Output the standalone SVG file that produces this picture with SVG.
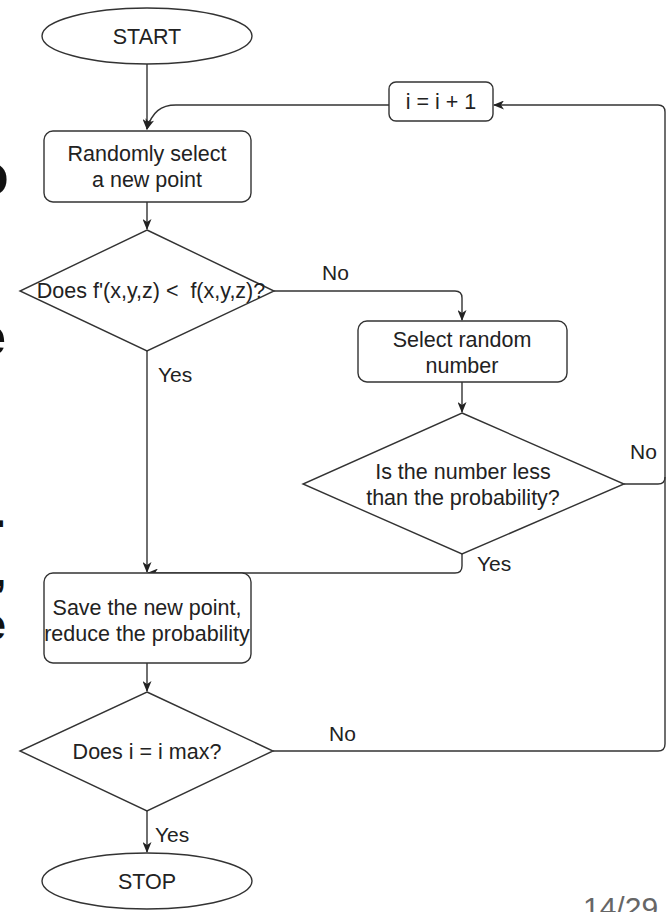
<svg xmlns="http://www.w3.org/2000/svg" width="669" height="912" viewBox="0 0 669 912">
<style>
.shape{fill:#fff;stroke:#333;stroke-width:1.4}
.edge{fill:none;stroke:#333;stroke-width:1.4}
.t{font-family:"Liberation Sans",Arial,sans-serif;font-size:21.5px;fill:#222;text-anchor:middle}
.lbl{font-family:"Liberation Sans",Arial,sans-serif;font-size:21px;fill:#222}
.frag{font-family:"Liberation Sans",Arial,sans-serif;font-weight:bold;fill:#111;text-anchor:end}
</style>
<defs>
<marker id="arr" viewBox="0 0 11 9" refX="10" refY="4.5" markerWidth="11" markerHeight="9" markerUnits="userSpaceOnUse" orient="auto">
<path d="M0,0 L11,4.5 L0,9 L3,4.5 z" fill="#222"/>
</marker>
</defs>
<rect x="0" y="0" width="669" height="912" fill="#fff"/>
<g id="slide-fragments">
<text class="frag" x="9" y="195" font-size="60">o</text>
<text class="frag" x="6" y="355" font-size="54">e</text>
<text class="frag" x="6" y="527" font-size="44">.</text>
<text class="frag" x="6" y="586" font-size="40">,</text>
<text class="frag" x="6" y="640" font-size="44">e</text>
<text x="583" y="918" style="font-family:'Liberation Sans',Arial,sans-serif;font-size:30px;fill:#666">14/29</text>
</g>
<g id="connectors">
<path class="edge" d="M147,64 L147,129" marker-end="url(#arr)"/>
<path class="edge" d="M389,105 L176,105 C161,105 152,112 147,129" marker-end="url(#arr)"/>
<path class="edge" d="M147,202 L147,229" marker-end="url(#arr)"/>
<path class="edge" d="M274,291 L455,291 Q462,291 462,298 L462,320" marker-end="url(#arr)"/>
<path class="edge" d="M462,382 L462,412" marker-end="url(#arr)"/>
<path class="edge" d="M147,351 L147,572" marker-end="url(#arr)"/>
<path class="edge" d="M462,554 L462,566 Q462,573 455,573 L148,573" marker-end="url(#arr)"/>
<path class="edge" d="M147,663 L147,691" marker-end="url(#arr)"/>
<path class="edge" d="M147,811 L147,852" marker-end="url(#arr)"/>
<path class="edge" d="M273,751 L658,751 Q665,751 665,744 L665,112 Q665,105 658,105 L494,105" marker-end="url(#arr)"/>
<path class="edge" d="M624,484 L658,484 Q665,484 665,477"/>
<text class="lbl" x="322" y="280">No</text>
<text class="lbl" x="158" y="382">Yes</text>
<text class="lbl" x="630" y="459">No</text>
<text class="lbl" x="477" y="571">Yes</text>
<text class="lbl" x="329" y="741">No</text>
<text class="lbl" x="155" y="842">Yes</text>
</g>
<g id="start">
<ellipse class="shape" cx="147" cy="36" rx="105" ry="28"/>
<text class="t" x="147" y="44">START</text>
</g>
<g id="increment">
<rect class="shape" x="389" y="82" width="104" height="39" rx="7"/>
<text class="t" x="441" y="109">i = i + 1</text>
</g>
<g id="random-point">
<rect class="shape" x="44" y="131" width="207" height="71" rx="9"/>
<text class="t" x="147" y="161">Randomly select</text>
<text class="t" x="147" y="187">a new point</text>
</g>
<g id="compare">
<polygon class="shape" points="147,230 274,291 147,351 20,291"/>
<text class="t" x="151" y="298" xml:space="preserve">Does f'(x,y,z) &lt;  f(x,y,z)?</text>
</g>
<g id="random-number">
<rect class="shape" x="358" y="321" width="209" height="61" rx="9"/>
<text class="t" x="462" y="347">Select random</text>
<text class="t" x="462" y="373">number</text>
</g>
<g id="probability-check">
<polygon class="shape" points="462,413 624,484 462,554 303,484"/>
<text class="t" x="463" y="479">Is the number less</text>
<text class="t" x="463" y="505">than the probability?</text>
</g>
<g id="save">
<rect class="shape" x="44" y="573" width="207" height="90" rx="9"/>
<text class="t" x="147" y="615">Save the new point,</text>
<text class="t" x="147" y="641">reduce the probability</text>
</g>
<g id="max-check">
<polygon class="shape" points="147,692 273,751 147,811 20,751"/>
<text class="t" x="147" y="759">Does i = i max?</text>
</g>
<g id="stop">
<ellipse class="shape" cx="147" cy="881" rx="105" ry="28"/>
<text class="t" x="147" y="889">STOP</text>
</g>
</svg>
